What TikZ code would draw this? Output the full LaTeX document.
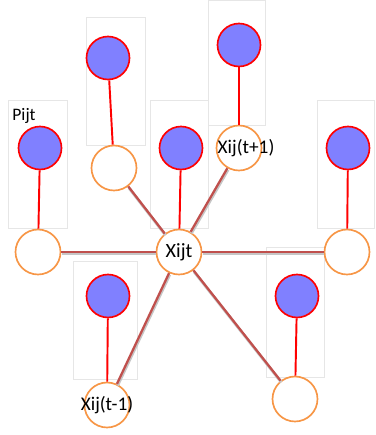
\documentclass[tikz,border=0pt]{standalone}
\usepackage{fontspec}
\setmainfont{Carlito}
\usepackage{tikz}
\usetikzlibrary{positioning}

\definecolor{pfill}{HTML}{8080FF}
\definecolor{pline}{HTML}{FF0000}
\definecolor{xline}{HTML}{F79646}
\definecolor{lnk}{HTML}{C0504D}
\definecolor{frame}{HTML}{E6E6E6}

\begin{document}
\begin{tikzpicture}[x=0.02cm, y=-0.02cm, font=\fontsize{11}{13}\selectfont,
        pnode/.style={circle, draw=pline, fill=pfill, line width=0.95pt, minimum size=0.86cm, inner sep=0pt},
        xnode/.style={circle, draw=xline, fill=white, line width=0.95pt, minimum size=0.9cm, inner sep=0pt},
        stem/.style={draw=pline, line width=1.1pt},
        lnkshadow/.style={draw=gray!45, line width=1.6pt, transform canvas={xshift=0.4pt, yshift=-0.9pt}},
        link/.style={draw=lnk, line width=1.3pt},
        unitbox/.style={draw=frame, fill=white, line width=0.4pt}]
    \useasboundingbox (0,0) rectangle (375,435);

    % frames behind each unit
    \draw[unitbox] (8,100) rectangle (67,228);
    \draw[unitbox] (86,17) rectangle (145,145);
    \draw[unitbox] (150,100) rectangle (208,228);
    \draw[unitbox] (208,0) rectangle (265,125);
    \draw[unitbox] (317,100) rectangle (374.5,228);
    \draw[unitbox] (73,261) rectangle (137,379);
    \draw[unitbox] (266,247) rectangle (324,377);

    % parameter circles
    \node[pnode] (PL) at (40,148) {};
    \node[pnode] (PUL) at (108,58) {};
    \node[pnode] (PC) at (181,148) {};
    \node[pnode] (PUR) at (239,45) {};
    \node[pnode] (PR) at (348,148) {};
    \node[pnode] (PLL) at (108,296) {};
    \node[pnode] (PLR) at (297,296) {};
    \node[font=\fontsize{10}{12}\selectfont] (lbl) at (24,116) {Pijt};

    % state circles
    \node[xnode] (XL) at (38,252) {};
    \node[xnode] (XUL) at (114,168) {};
    \node[xnode, font=\fontsize{11.5}{13}\selectfont] (XC) at (179,252) {Xijt};
    \node[xnode] (XUR) at (239,148) {\makebox[0pt]{\hspace{8pt}Xij(t+1)}};
    \node[xnode] (XR) at (347,252) {};
    \node[xnode] (XLL) at (107,405) {\makebox[0pt]{Xij(t-1)}};
    \node[xnode] (XLR) at (295,399) {};

    % stems
    \draw[stem] (PL) -- (XL);
    \draw[stem] (PUL) -- (XUL);
    \draw[stem] (PC) -- (XC);
    \draw[stem] (PUR) -- (XUR);
    \draw[stem] (PR) -- (XR);
    \draw[stem] (PLL) -- (XLL);
    \draw[stem] (PLR) -- (XLR);

    % links from the centre
    \foreach \n in {XL,XUL,XUR,XR,XLL,XLR}
        \draw[lnkshadow] (XC) -- (\n);
    \foreach \n in {XL,XUL,XUR,XR,XLL,XLR}
        \draw[link] (XC) -- (\n);
\end{tikzpicture}
\end{document}
